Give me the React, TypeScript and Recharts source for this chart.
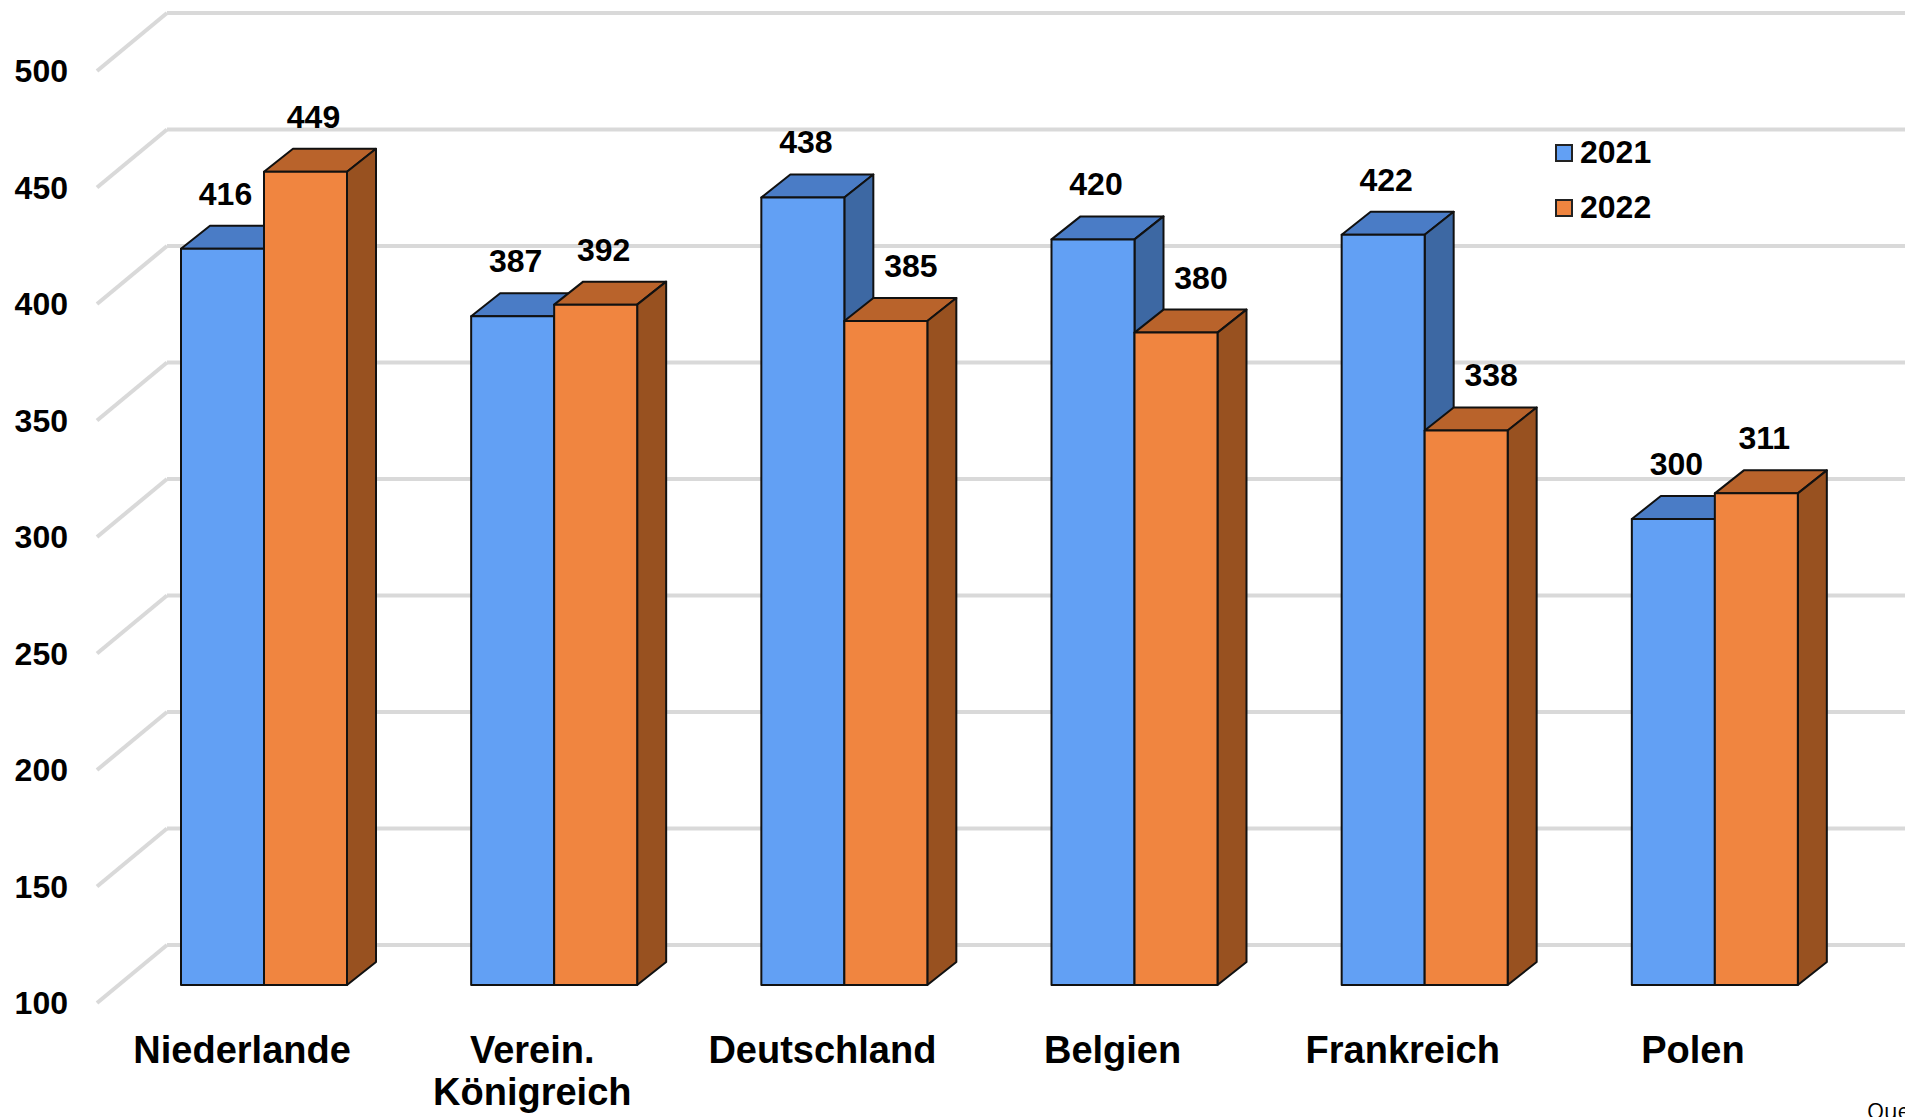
import { BarChart, Bar, XAxis, YAxis, CartesianGrid, Legend, LabelList } from 'recharts'

const CATEGORIES = ['Niederlande', 'Verein. Königreich', 'Deutschland', 'Belgien', 'Frankreich', 'Polen']
const VALUES_2021 = [416, 387, 438, 420, 422, 300]
const VALUES_2022 = [449, 392, 385, 380, 338, 311]
const Y_TICKS = [100, 150, 200, 250, 300, 350, 400, 450, 500]

const data = CATEGORIES.map((name, i) => ({ name, y2021: VALUES_2021[i], y2022: VALUES_2022[i] }))

const FONT = '"Liberation Sans", Arial, sans-serif'

// depth of the 3d prisms
const DX = 29
const DY = 23

const COLORS = {
  blue: { front: '#62a0f4', top: '#4a7cc6', side: '#3d68a3' },
  orange: { front: '#f08540', top: '#b9632b', side: '#985120' },
}

function Prism(props: any) {
  const { x, y, width: w, height: h, palette } = props
  if (h == null || w == null) return null
  const c = COLORS[palette as 'blue' | 'orange']
  const stroke = '#111'
  return (
    <g strokeLinejoin="round">
      <polygon
        points={`${x},${y} ${x + DX},${y - DY} ${x + w + DX},${y - DY} ${x + w},${y}`}
        fill={c.top} stroke={stroke} strokeWidth={2}
      />
      <polygon
        points={`${x + w},${y} ${x + w + DX},${y - DY} ${x + w + DX},${y + h - DY} ${x + w},${y + h}`}
        fill={c.side} stroke={stroke} strokeWidth={2}
      />
      <rect x={x} y={y} width={w} height={h} fill={c.front} stroke={stroke} strokeWidth={2} />
    </g>
  )
}

// back wall + left wall diagonal for each value line
function GridLine(props: any) {
  const { x1, y1, index } = props
  const bx = x1 + 48
  const by = y1 - 40
  return (
    <g key={`grid-${index}`}>
      <line x1={x1 - 22} y1={y1 + 18} x2={bx} y2={by} stroke="#d9d9d9" strokeWidth={4} />
      <line x1={bx} y1={by} x2={1920} y2={by} stroke="#d9d9d9" strokeWidth={4} />
    </g>
  )
}

function XTick({ x, y, payload }: any) {
  const lines = String(payload.value).split(' ')
  return (
    <text x={x - 22} y={y + 65} textAnchor="middle" fontFamily={FONT} fontWeight="bold" fontSize={38} fill="#000">
      {lines.map((l, i) => (
        <tspan key={i} x={x - 22} dy={i === 0 ? 0 : 42} dominantBaseline="central">{l}</tspan>
      ))}
    </text>
  )
}

function YTick({ x, y, payload }: any) {
  return (
    <text x={x - 51} y={y + 18} textAnchor="end" dominantBaseline="central" fontFamily={FONT} fontWeight="bold" fontSize={32} fill="#000">
      {payload.value}
    </text>
  )
}

// orange labels get pushed right when the blue bar next to them is taller
function makeLabel(series: '2021' | '2022') {
  return (p: any) => {
    const { x, y, width, value, index } = p
    let shift = 3
    if (series === '2022') shift = VALUES_2021[index] > VALUES_2022[index] ? 25 : 8
    return (
      <text key={index} x={x + width / 2 + shift} y={y - 55} textAnchor="middle" dominantBaseline="central"
            fontFamily={FONT} fontWeight="bold" fontSize={32} fill="#000">
        {value}
      </text>
    )
  }
}

function LegendBox({ payload }: any) {
  return (
    <div style={{ fontFamily: FONT, fontWeight: 'bold', fontSize: 32 }}>
      {(payload || []).map((e: any) => (
        <div key={e.value} style={{ height: 55, display: 'flex', alignItems: 'center' }}>
          <span style={{ width: 14, height: 14, border: '2px solid #222', background: e.color, display: 'inline-block', marginRight: 7 }} />
          <span>{e.value}</span>
        </div>
      ))}
    </div>
  )
}

export default function App() {
  return (
    <div style={{ position: 'absolute', left: 0, top: 0, width: 1905, height: 1117, overflow: 'hidden', background: '#fff' }}>
      <BarChart width={1905} height={1117} data={data} barGap={0} barSize={83}
                margin={{ top: 53, right: 45, left: 0, bottom: 0 }}>
        <CartesianGrid vertical={false} horizontal={GridLine} />
        <XAxis dataKey="name" height={132} axisLine={false} tickLine={false} tickSize={0} tickMargin={0}
               interval={0} tick={<XTick />} />
        <YAxis type="number" domain={[100, 500]} ticks={Y_TICKS} width={119} axisLine={false} tickLine={false}
               tickSize={0} tickMargin={0} tick={<YTick />} />
        <Legend layout="horizontal" verticalAlign="middle" align="center" content={<LegendBox />}
                wrapperStyle={{ left: 1555, top: 125, width: 200 }} />
        <Bar dataKey="y2021" name="2021" fill={COLORS.blue.front} isAnimationActive={false}
             shape={(p: any) => <Prism {...p} palette="blue" />}>
          <LabelList dataKey="y2021" content={makeLabel('2021')} />
        </Bar>
        <Bar dataKey="y2022" name="2022" fill={COLORS.orange.front} isAnimationActive={false}
             shape={(p: any) => <Prism {...p} palette="orange" />}>
          <LabelList dataKey="y2022" content={makeLabel('2022')} />
        </Bar>
      </BarChart>
      <div style={{ position: 'absolute', left: 1867, top: 1099, fontFamily: '"Open Sans", sans-serif', fontSize: 22, lineHeight: '22px', whiteSpace: 'nowrap' }}>
        Quelle
      </div>
    </div>
  )
}
